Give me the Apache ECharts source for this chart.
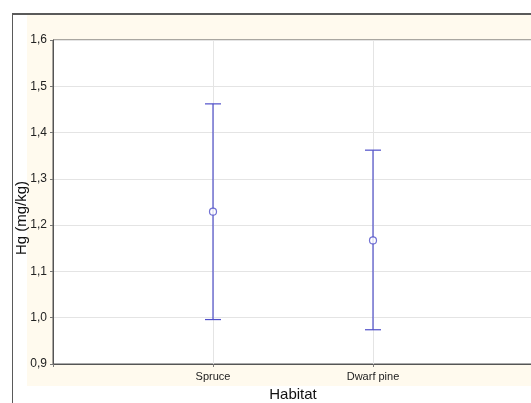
<!DOCTYPE html>
<html>
<head>
<meta charset="utf-8">
<script src="https://cdn.jsdelivr.net/npm/echarts@6/dist/echarts.min.js"></script>
<style>html,body{margin:0;padding:0;background:#fff;}#c{width:531px;height:403px;}</style>
</head>
<body>
<div id="c"></div>
<script>
const categories = ['Spruce', 'Dwarf pine'];
const means = [1.229, 1.167];
const upper = [1.462, 1.362];
const lower = [0.996, 0.974];
const yTicks = [0.9, 1.0, 1.1, 1.2, 1.3, 1.4, 1.5, 1.6];

const color = '#4f4fc9';
const chart = echarts.init(document.getElementById('c'), null, {renderer: 'canvas'});

const errData = categories.map((c, i) => [i + 1, lower[i], upper[i]]);
const meanData = categories.map((c, i) => [i + 1, means[i]]);

chart.setOption({
  animation: false,
  backgroundColor: '#fff',
  graphic: [
    {type: 'rect', z: -10, shape: {x: 27, y: 15, width: 510, height: 371}, style: {fill: '#fffaee'}},
    {type: 'line', z: 5, shape: {x1: 12, y1: 14, x2: 531, y2: 14}, style: {stroke: '#5a5a5a', lineWidth: 2}},
    {type: 'line', z: 5, shape: {x1: 12.5, y1: 14, x2: 12.5, y2: 403}, style: {stroke: '#5a5a5a', lineWidth: 1}},
    {type: 'text', z: 5, x: 14, y: 218, rotation: Math.PI / 2,
      style: {text: 'Hg (mg/kg)', fontFamily: 'Liberation Sans, Arial, sans-serif', fontSize: 15, fill: '#111', align: 'center', verticalAlign: 'top'}}
  ],
  grid: {left: 53, top: 40, right: -2, bottom: 39, show: true, backgroundColor: '#fff', borderColor: '#555', borderWidth: 1, outerBoundsMode: 'none', containLabel: false},
  xAxis: {
    type: 'value', min: 0, max: 3, interval: 1,
    name: 'Habitat', nameLocation: 'middle', nameGap: 21,
    nameTextStyle: {fontFamily: 'Liberation Sans, Arial, sans-serif', fontSize: 15, color: '#111'},
    axisLine: {show: true, lineStyle: {color: '#555', width: 1}},
    axisTick: {show: true, length: 3, lineStyle: {color: '#777'}},
    axisLabel: {
      margin: 7, fontFamily: 'Liberation Sans, Arial, sans-serif', fontSize: 11, color: '#222',
      formatter: v => (v >= 1 && v <= categories.length && Number.isInteger(v)) ? categories[v - 1] : ''
    },
    splitLine: {show: true, lineStyle: {color: '#e4e4e4', width: 1}}
  },
  yAxis: {
    type: 'value', min: yTicks[0], max: yTicks[yTicks.length - 1], interval: 0.1,
    axisLine: {show: true, lineStyle: {color: '#555', width: 1}},
    axisTick: {show: true, length: 3, lineStyle: {color: '#777'}},
    axisLabel: {
      margin: 6, fontFamily: 'Liberation Sans, Arial, sans-serif', fontSize: 12, color: '#222',
      formatter: v => v.toFixed(1).replace('.', ',')
    },
    splitLine: {show: true, lineStyle: {color: '#e4e4e4', width: 1}}
  },
  series: [
    {
      type: 'custom',
      data: errData,
      encode: {x: 0, y: [1, 2]},
      renderItem: function (params, api) {
        const x = api.value(0);
        const lo = api.coord([x, api.value(1)]);
        const hi = api.coord([x, api.value(2)]);
        const hw = 8;
        const st = {stroke: color, lineWidth: 1.2};
        return {
          type: 'group',
          children: [
            {type: 'line', shape: {x1: lo[0], y1: lo[1], x2: hi[0], y2: hi[1]}, style: st},
            {type: 'line', shape: {x1: lo[0] - hw, y1: lo[1], x2: lo[0] + hw, y2: lo[1]}, style: st},
            {type: 'line', shape: {x1: hi[0] - hw, y1: hi[1], x2: hi[0] + hw, y2: hi[1]}, style: st}
          ]
        };
      },
      z: 2
    },
    {
      type: 'scatter',
      data: meanData,
      symbol: 'circle',
      symbolSize: 7,
      itemStyle: {color: '#fff', borderColor: color, borderWidth: 1.2},
      z: 3
    }
  ]
});
</script>
</body>
</html>
